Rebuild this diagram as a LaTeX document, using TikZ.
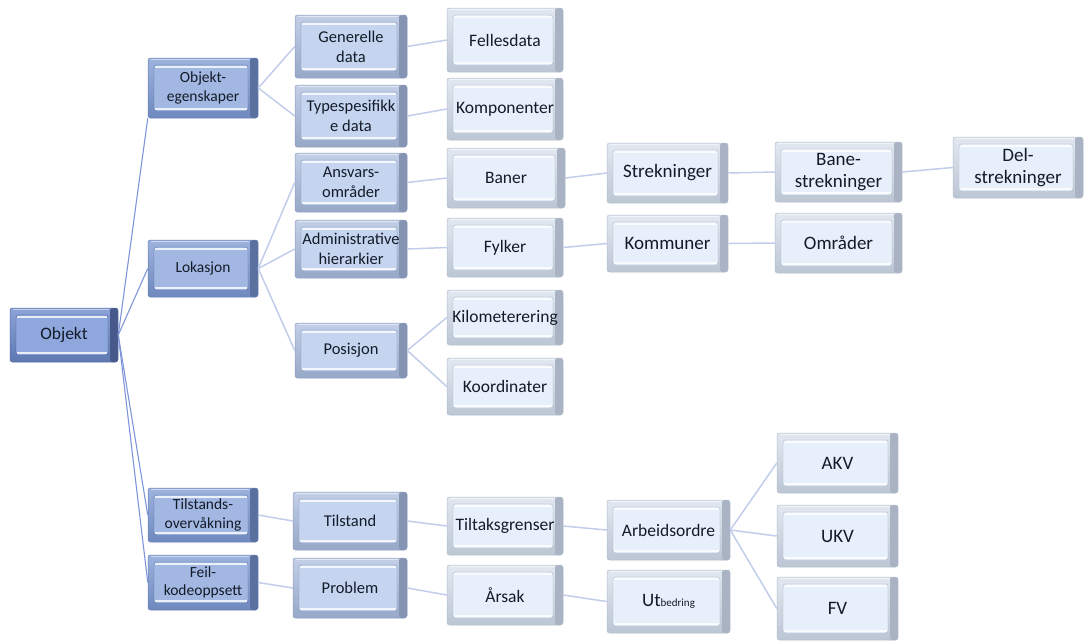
\documentclass[tikz,border=0pt]{standalone}
\usepackage{fontspec}
\setmainfont{Carlito}
\begin{document}
% palette A: pale boxes, B: light blue, C: medium blue, D: root
\definecolor{rimtA}{HTML}{E2E8F0}\definecolor{rimbA}{HTML}{BCC6D4}\definecolor{sideA}{HTML}{A9B3C3}\definecolor{faceA}{HTML}{E7EFFA}\definecolor{edgeA}{HTML}{B3BDCC}
\definecolor{rimtB}{HTML}{C2CFE6}\definecolor{rimbB}{HTML}{97A8C8}\definecolor{sideB}{HTML}{8494B2}\definecolor{faceB}{HTML}{C5D5F0}\definecolor{edgeB}{HTML}{8D9DBC}
\definecolor{rimtC}{HTML}{9DB3DE}\definecolor{rimbC}{HTML}{6F88BE}\definecolor{sideC}{HTML}{5A71A0}\definecolor{faceC}{HTML}{A2B8E3}\definecolor{edgeC}{HTML}{667FB4}
\definecolor{rimtD}{HTML}{8BA3D8}\definecolor{rimbD}{HTML}{5E78B2}\definecolor{sideD}{HTML}{46598A}\definecolor{faceD}{HTML}{8EA8DE}\definecolor{edgeD}{HTML}{52699C}
\definecolor{txt}{HTML}{141B28}
\definecolor{rootline}{HTML}{7E95D8}
\definecolor{branch}{HTML}{C2CDEB}
\begin{tikzpicture}[x=1pt,y=-1pt,
  bev/.style={rounded corners=2.5pt, draw=edge#1, line width=0.5pt,
    top color=rimt#1, bottom color=rimb#1, text=txt, align=center, inner sep=0pt,
    path picture={
      \fill[side#1] ([xshift=-8pt]path picture bounding box.south east) rectangle (path picture bounding box.north east);
      \fill[face#1, draw=side#1, line width=0.3pt] ([xshift=6pt,yshift=7pt]path picture bounding box.south west) rectangle ([xshift=-10pt,yshift=-7pt]path picture bounding box.north east);
      \draw[white, opacity=.8, line width=1.3pt] ([xshift=7pt,yshift=-9pt]path picture bounding box.north west) -- ([xshift=-11pt,yshift=-9pt]path picture bounding box.north east);
      \draw[white, opacity=.8, line width=1.3pt] ([xshift=7pt,yshift=9pt]path picture bounding box.south west) -- ([xshift=-11pt,yshift=9pt]path picture bounding box.south east);
      \draw[white, opacity=.5, line width=0.8pt] ([xshift=3pt,yshift=-1.5pt]path picture bounding box.north west) -- ([xshift=-9pt,yshift=-1.5pt]path picture bounding box.north east);
    }},
  root/.style={bev=D, font=\fontsize{17.5}{20}\selectfont},
  lvone/.style={bev=C, font=\fontsize{15.5}{18.5}\selectfont},
  lvtwo/.style={bev=B, font=\fontsize{16.5}{20}\selectfont},
  lvthree/.style={bev=A, font=\fontsize{17.5}{21}\selectfont},
  lvfour/.style={bev=A, font=\fontsize{19}{22}\selectfont},
  rootlink/.style={draw=rootline, line width=1.1pt},
  link/.style={draw=branch, line width=1.5pt}
]
\useasboundingbox (0,0) rectangle (1086,641);

% root
\node[root, minimum width=108pt, minimum height=54pt] (obj) at (64,335) {Objekt};

% first level
\node[lvone, minimum width=110pt, minimum height=60pt] (oe)   at (203,88)    {Objekt-\\egenskaper};
\node[lvone, minimum width=110pt, minimum height=57pt] (lok)  at (203,268.5) {Lokasjon};
\node[lvone, minimum width=110pt, minimum height=54pt] (tov)  at (203,515)   {Tilstands-\\overvåkning};
\node[lvone, minimum width=110pt, minimum height=55pt] (feil) at (203,582.5) {Feil-\\kodeoppsett};

% second level
\node[lvtwo, minimum width=112pt, minimum height=63pt] (gen)  at (351,46.5)  {Generelle\\data};
\node[lvtwo, minimum width=112pt, minimum height=62pt] (typ)  at (351,116)   {Typespesifikk\\e data};
\node[lvtwo, minimum width=112pt, minimum height=59pt] (ans)  at (351,182.5) {Ansvars-\\områder};
\node[lvtwo, minimum width=112pt, minimum height=58pt] (adm)  at (351,249)   {Administrative\\hierarkier};
\node[lvtwo, minimum width=112pt, minimum height=55pt] (pos)  at (351,350.5) {Posisjon};
\node[lvtwo, minimum width=114pt, minimum height=58pt] (tst)  at (350,521)   {Tilstand};
\node[lvtwo, minimum width=114pt, minimum height=60pt] (prob) at (350,588)   {Problem};

% third level
\node[lvthree, minimum width=116pt, minimum height=64pt] (fel)   at (505,40)    {Fellesdata};
\node[lvthree, minimum width=116pt, minimum height=62pt] (komp)  at (505,109)   {Komponenter};
\node[lvthree, minimum width=118pt, minimum height=60pt] (ban)   at (506,178)   {Baner};
\node[lvthree, minimum width=116pt, minimum height=59pt] (fyl)   at (505,247.5) {Fylker};
\node[lvthree, minimum width=116pt, minimum height=55pt] (km)    at (505,317.5) {Kilometerering};
\node[lvthree, minimum width=116pt, minimum height=57pt] (koo)   at (505,386.5) {Koordinater};
\node[lvthree, minimum width=116pt, minimum height=58pt] (tilt)  at (505,526)   {Tiltaksgrenser};
\node[lvthree, minimum width=116pt, minimum height=60pt] (arsak) at (505,595)   {Årsak};

% fourth level
\node[lvfour, minimum width=121pt, minimum height=60pt] (strk) at (667.5,173)   {Strekninger};
\node[lvfour, minimum width=121pt, minimum height=57pt] (kom)  at (667.5,243.5) {Kommuner};
\node[lvthree, minimum width=123pt, minimum height=60pt] (arb) at (668.5,530)   {Arbeidsordre};
\node[lvthree, minimum width=123pt, minimum height=63pt] (utb) at (668.5,601.5) {{\fontsize{19}{22}\selectfont Ut}{\fontsize{11}{13}\selectfont bedring}};

% fifth level
\node[lvfour, minimum width=127pt, minimum height=60pt] (bane) at (838.5,172)   {Bane-\\strekninger};
\node[lvfour, minimum width=127pt, minimum height=60pt] (omr)  at (838.5,243)   {Områder};
\node[lvfour, minimum width=121pt, minimum height=60pt] (akv)  at (837.5,463)   {AKV};
\node[lvfour, minimum width=121pt, minimum height=62pt] (ukv)  at (837.5,536)   {UKV};
\node[lvfour, minimum width=121pt, minimum height=63pt] (fv)   at (837.5,608.5) {FV};

% sixth level
\node[lvfour, minimum width=130pt, minimum height=61pt] (del) at (1018,167.5) {Del-\\strekninger};

% connectors from the root
\path[rootlink] (obj.east) -- (oe.south west);
\path[rootlink] (obj.east) -- (lok.west);
\path[rootlink] (obj.east) -- (tov.west);
\path[rootlink] (obj.east) -- (feil.west);

% object properties branch
\path[link] (oe.east) -- (gen.west);
\path[link] (oe.east) -- (typ.west);
\path[link] (gen.east) -- (fel.west);
\path[link] (typ.east) -- (komp.west);

% location branch
\path[link] (lok.east) -- (ans.west);
\path[link] (lok.east) -- (adm.west);
\path[link] (lok.east) -- (pos.west);
\path[link] (ans.east) -- (ban.west);
\path[link] (ban.east) -- (strk.west);
\path[link] (strk.east) -- (bane.west);
\path[link] (bane.east) -- (del.west);
\path[link] (adm.east) -- (fyl.west);
\path[link] (fyl.east) -- (kom.west);
\path[link] (kom.east) -- (omr.west);
\path[link] (pos.east) -- (km.west);
\path[link] (pos.east) -- (koo.west);

% condition monitoring branch
\path[link] (tov.east) -- (tst.west);
\path[link] (tst.east) -- (tilt.west);
\path[link] (tilt.east) -- (arb.west);
\path[link] (arb.east) -- (akv.west);
\path[link] (arb.east) -- (ukv.west);
\path[link] (arb.east) -- (fv.west);

% fault code branch
\path[link] (feil.east) -- (prob.west);
\path[link] (prob.east) -- (arsak.west);
\path[link] (arsak.east) -- (utb.west);
\end{tikzpicture}
\end{document}
